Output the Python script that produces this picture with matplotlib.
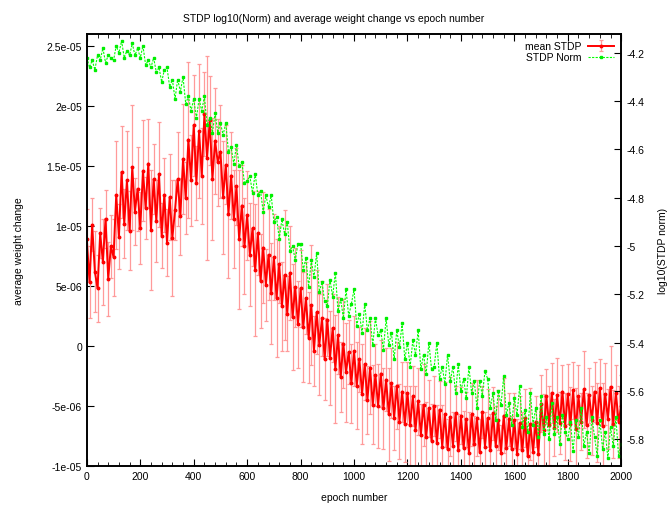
import matplotlib
matplotlib.use("Agg")
import matplotlib.pyplot as plt
import numpy as np

plt.rcParams["font.family"] = ["Liberation Sans", "DejaVu Sans"]

# epochs, every 10th epoch
epochs = list(range(0, 2001, 10))

# mean STDP (units of 1e-6)
mean_stdp_e6 = [
    8.9, 5.3, 10.1, 6.2, 4.8, 9.4, 7.0, 10.6, 5.6, 8.3,
    7.4, 12.6, 9.1, 14.5, 10.2, 13.8, 9.6, 14.9, 11.2, 13.1,
    9.8, 14.6, 11.5, 15.2, 9.7, 13.9, 10.4, 14.3, 9.2, 12.6,
    8.6, 12.4, 9.0, 11.3, 13.9, 10.8, 15.6, 12.3, 17.2, 13.8,
    18.4, 13.6, 17.9, 14.2, 19.3, 15.7, 18.8, 13.9, 17.1, 15.3,
    16.2, 12.4, 15.1, 11.0, 14.2, 10.6, 13.3, 8.9, 11.7, 8.3,
    10.9, 7.6, 9.8, 6.3, 9.4, 5.4, 8.2, 5.1, 7.6, 4.4,
    7.4, 4.0, 6.8, 3.3, 5.9, 2.7, 6.1, 2.4, 4.9, 1.8,
    4.8, 1.6, 4.0, 0.7, 3.4, -0.4, 2.8, 0.1, 2.3, -1.1,
    2.2, -1.0, 1.5, -1.9, 0.9, -2.6, 0.2, -2.2, -0.5, -3.1,
    -0.4, -3.3, -1.1, -4.0, -1.5, -4.5, -1.8, -4.9, -2.4, -5.0,
    -2.3, -5.2, -2.8, -5.7, -3.1, -6.0, -3.3, -6.3, -3.8, -6.5,
    -3.9, -6.6, -4.2, -7.0, -4.6, -7.4, -4.9, -7.6, -5.2, -7.9,
    -5.0, -8.1, -5.3, -8.4, -5.7, -8.6, -5.9, -8.3, -5.6, -8.7,
    -5.8, -8.5, -6.1, -8.9, -5.7, -8.2, -6.0, -8.8, -5.5, -8.4,
    -6.0, -8.7, -5.6, -8.3, -6.2, -8.9, -5.8, -8.5, -6.1, -8.6,
    -6.2, -9.0, -6.4, -8.7, -6.0, -9.2, -6.5, -8.8, -6.3, -9.0,
    -4.8, -7.0, -4.2, -6.6, -3.9, -6.8, -4.1, -6.4, -3.8, -6.7,
    -4.0, -6.5, -3.7, -6.9, -4.2, -6.3, -3.6, -6.6, -4.1, -6.2,
    -3.8, -6.4, -3.5, -6.7, -4.0, -6.1, -3.4, -6.5, -3.9, -6.3, -5.0,
]

# error bars of mean STDP (units of 1e-6)
stdp_err_e6 = [
    2.5, 3.0, 2.2, 3.4, 2.8, 2.1, 3.6, 2.4, 3.1, 2.6,
    3.2, 4.5, 2.7, 3.8, 2.9, 4.1, 3.3, 5.2, 2.8, 3.5,
    3.0, 4.2, 2.6, 3.7, 5.0, 2.9, 3.4, 4.4, 2.7, 3.1,
    2.8, 3.6, 4.8, 2.5, 3.9, 3.2, 4.6, 3.0, 6.5, 3.8,
    4.2, 3.1, 5.6, 4.0, 3.5, 8.5, 3.7, 5.1, 4.4, 3.6,
    3.9, 4.7, 3.3, 5.3, 3.6, 4.1, 3.2, 5.8, 3.4, 4.0,
    3.7, 4.3, 3.1, 5.5, 3.5, 3.9, 4.6, 3.0, 3.8, 4.2,
    3.6, 4.9, 3.2, 3.7, 5.4, 3.1, 3.9, 4.4, 3.3, 3.6,
    3.2, 4.6, 3.0, 3.8, 5.0, 2.9, 3.5, 4.2, 3.1, 3.4,
    3.0, 3.9, 2.8, 4.5, 3.2, 2.9, 3.7, 4.1, 2.7, 3.3,
    2.9, 3.6, 2.7, 4.2, 3.0, 2.8, 3.9, 3.3, 2.6, 3.5,
    2.8, 3.4, 2.6, 3.9, 2.9, 2.7, 3.6, 3.1, 2.5, 3.2,
    2.6, 3.3, 2.5, 3.7, 2.8, 2.6, 3.4, 2.9, 2.4, 3.1,
    2.5, 3.2, 2.4, 3.5, 2.7, 2.5, 3.3, 2.8, 2.3, 3.0,
    2.4, 3.1, 2.3, 3.4, 2.6, 2.4, 3.2, 2.7, 2.2, 2.9,
    2.4, 3.0, 2.2, 3.3, 2.5, 2.3, 3.1, 2.6, 2.2, 2.8,
    2.3, 2.9, 2.2, 3.2, 2.4, 2.3, 3.0, 2.5, 2.1, 2.7,
    2.4, 3.0, 2.3, 3.3, 2.5, 2.4, 3.1, 2.6, 2.2, 2.8,
    2.5, 3.1, 2.4, 3.4, 2.6, 2.4, 3.2, 2.7, 2.3, 2.9,
    2.5, 3.3, 2.4, 3.6, 2.6, 2.5, 3.4, 2.8, 2.3, 3.0, 2.6,
]

# log10 of STDP norm
stdp_norm_log = [
    -4.22, -4.26, -4.23, -4.27, -4.21, -4.23, -4.18, -4.24, -4.21, -4.22,
    -4.23, -4.17, -4.20, -4.15, -4.22, -4.19, -4.21, -4.16, -4.21, -4.18,
    -4.22, -4.17, -4.25, -4.23, -4.26, -4.22, -4.28, -4.26, -4.32, -4.27,
    -4.26, -4.34, -4.31, -4.39, -4.31, -4.36, -4.30, -4.41, -4.38, -4.44,
    -4.39, -4.47, -4.39, -4.44, -4.38, -4.50, -4.47, -4.53, -4.45, -4.53,
    -4.49, -4.54, -4.49, -4.61, -4.59, -4.66, -4.58, -4.67, -4.65, -4.74,
    -4.73, -4.71, -4.78, -4.70, -4.79, -4.77, -4.86, -4.79, -4.84, -4.79,
    -4.90, -4.88, -4.97, -4.89, -4.95, -4.90, -5.02, -5.00, -5.06, -4.99,
    -4.99, -5.10, -5.05, -5.17, -5.06, -5.13, -5.03, -5.19, -5.15, -5.23,
    -5.25, -5.14, -5.21, -5.11, -5.27, -5.22, -5.30, -5.18, -5.29, -5.24,
    -5.18, -5.33, -5.28, -5.36, -5.24, -5.35, -5.30, -5.41, -5.30, -5.37,
    -5.35, -5.43, -5.30, -5.41, -5.36, -5.47, -5.35, -5.42, -5.32, -5.47,
    -5.40, -5.50, -5.39, -5.45, -5.35, -5.51, -5.45, -5.53, -5.40, -5.51,
    -5.50, -5.40, -5.55, -5.50, -5.57, -5.45, -5.56, -5.50, -5.61, -5.49,
    -5.60, -5.55, -5.63, -5.50, -5.61, -5.56, -5.67, -5.56, -5.62, -5.52,
    -5.55, -5.67, -5.61, -5.72, -5.60, -5.66, -5.54, -5.70, -5.65, -5.74,
    -5.63, -5.70, -5.58, -5.75, -5.68, -5.77, -5.61, -5.74, -5.67, -5.79,
    -5.62, -5.78, -5.71, -5.80, -5.65, -5.78, -5.71, -5.82, -5.70, -5.77,
    -5.80, -5.73, -5.85, -5.72, -5.79, -5.67, -5.83, -5.77, -5.86, -5.71,
    -5.79, -5.87, -5.72, -5.84, -5.77, -5.88, -5.75, -5.83, -5.71, -5.87, -5.82,
]

x_ticks = [0, 200, 400, 600, 800, 1000, 1200, 1400, 1600, 1800, 2000]
left_ticks = [2.5e-05, 2e-05, 1.5e-05, 1e-05, 5e-06, 0, -5e-06, -1e-05]
left_labels = ["2.5e-05", "2e-05", "1.5e-05", "1e-05", "5e-06", "0", "-5e-06", "-1e-05"]
right_ticks = [-4.2, -4.4, -4.6, -4.8, -5, -5.2, -5.4, -5.6, -5.8]
right_labels = ["-4.2", "-4.4", "-4.6", "-4.8", "-5", "-5.2", "-5.4", "-5.6", "-5.8"]

fs = 7.5
fig = plt.figure(figsize=(6.68, 5.06), dpi=100)
ax = fig.add_axes([0.130, 0.077, 0.800, 0.854])
ax2 = ax.twinx()

mean_stdp = np.array(mean_stdp_e6) * 1e-6
stdp_err = np.array(stdp_err_e6) * 1e-6

ax.errorbar(epochs, mean_stdp, yerr=stdp_err, color="#ff0000", lw=1.4,
            marker="o", ms=1.8, ecolor="#ff9a9a", elinewidth=0.9,
            capsize=1.2, capthick=0.9, label="mean STDP")
ax2.plot(epochs, stdp_norm_log, color="#00ff00", lw=0.8, ls=(0, (2, 1.2)),
         marker="s", ms=1.8, mec="#00ee00", label="STDP Norm")

ax.set_xlim(0, 2000)
ax.set_ylim(-1.0e-05, 2.6e-05)
ax2.set_ylim(-5.912, -4.121)

ax.set_xticks(x_ticks)
ax.set_xticks(range(0, 2001, 40), minor=True)
ax.set_yticks(left_ticks)
ax.set_yticklabels(left_labels)
ax2.set_yticks(right_ticks)
ax2.set_yticklabels(right_labels)

ax.tick_params(axis="x", which="both", direction="in", top=True, labelsize=fs)
ax.tick_params(axis="x", which="major", length=5)
ax.tick_params(axis="x", which="minor", length=3)
ax.tick_params(axis="y", direction="in", length=5, labelsize=fs, right=False)
ax2.tick_params(axis="y", direction="in", length=5, labelsize=fs)

for a in (ax, ax2):
    for s in a.spines.values():
        s.set_linewidth(1.2)

ax.set_xlabel("epoch number", fontsize=fs, labelpad=8)
ax.set_ylabel("average weight change", fontsize=fs, labelpad=16)
ax2.set_ylabel("log10(STDP norm)", fontsize=fs, labelpad=10)
fig.text(0.5, 0.962, "STDP log10(Norm) and average weight change vs epoch number",
         ha="center", va="center", fontsize=fs)

h1, l1 = ax.get_legend_handles_labels()
h2, l2 = ax2.get_legend_handles_labels()
leg = ax2.legend(h1 + h2, l1 + l2, loc="upper right", frameon=False,
                 fontsize=fs, markerfirst=False, handlelength=2.5,
                 borderaxespad=0.3, labelspacing=0.1, handletextpad=0.6)

fig.savefig("out.png", dpi=100)
